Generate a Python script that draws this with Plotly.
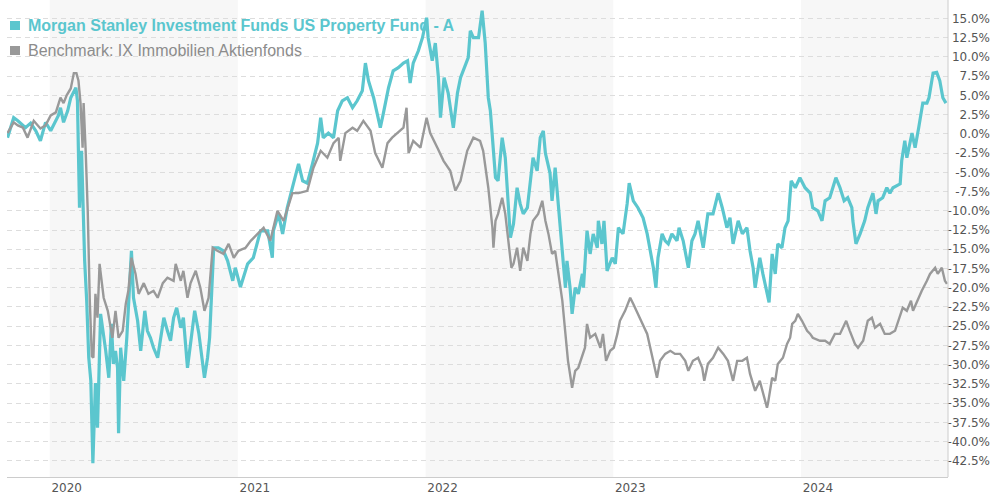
import plotly.graph_objects as go

# ---------------- data (cumulative performance in %) ----------------
fund_dates = [
    "2019-10-11", "2019-10-23", "2019-10-31", "2019-11-15", "2019-11-25", "2019-12-05", "2019-12-14", "2019-12-24",
    "2020-01-03", "2020-01-13", "2020-01-18", "2020-01-22", "2020-01-28", "2020-02-05", "2020-02-11", "2020-02-21", "2020-02-24", "2020-02-28",
    "2020-03-03", "2020-03-09", "2020-03-13", "2020-03-17", "2020-03-21", "2020-03-25", "2020-03-30",
    "2020-04-03", "2020-04-09", "2020-04-19", "2020-04-25", "2020-04-30",
    "2020-05-04", "2020-05-08", "2020-05-12", "2020-05-14", "2020-05-18", "2020-05-24", "2020-05-30",
    "2020-06-08", "2020-06-12", "2020-06-20", "2020-06-26",
    "2020-07-04", "2020-07-09", "2020-07-15", "2020-07-21", "2020-07-29",
    "2020-08-04", "2020-08-10", "2020-08-17", "2020-08-23", "2020-08-29",
    "2020-09-04", "2020-09-12", "2020-09-17", "2020-09-25",
    "2020-10-01", "2020-10-09", "2020-10-17", "2020-10-28",
    "2020-11-03", "2020-11-07", "2020-11-15", "2020-11-24",
    "2020-12-04", "2020-12-12", "2020-12-22", "2020-12-27",
    "2021-01-06", "2021-01-20", "2021-01-31", "2021-02-08", "2021-02-14", "2021-02-28",
    "2021-03-09", "2021-03-11", "2021-03-21", "2021-03-29", "2021-04-07", "2021-04-17", "2021-04-29",
    "2021-05-07", "2021-05-16", "2021-05-26", "2021-06-05", "2021-06-11", "2021-06-16", "2021-06-26",
    "2021-07-06", "2021-07-14", "2021-07-23", "2021-08-02", "2021-08-12", "2021-08-21", "2021-08-31",
    "2021-09-06", "2021-09-12", "2021-09-22", "2021-10-05", "2021-10-11", "2021-10-21", "2021-10-30",
    "2021-11-09", "2021-11-19", "2021-11-27", "2021-12-02", "2021-12-08", "2021-12-18", "2021-12-26",
    "2022-01-03", "2022-01-06", "2022-01-14", "2022-01-20", "2022-01-26", "2022-01-30",
    "2022-02-06", "2022-02-14", "2022-02-24", "2022-03-04", "2022-03-10", "2022-03-15", "2022-03-25", "2022-03-29",
    "2022-04-04", "2022-04-14", "2022-04-21", "2022-04-27", "2022-05-03", "2022-05-07", "2022-05-13", "2022-05-17",
    "2022-05-22", "2022-05-30", "2022-06-05", "2022-06-11", "2022-06-15", "2022-06-21", "2022-06-28",
    "2022-07-04", "2022-07-10", "2022-07-18", "2022-07-24", "2022-07-29", "2022-08-06", "2022-08-12",
    "2022-08-18", "2022-08-22", "2022-08-31", "2022-09-04", "2022-09-10", "2022-09-16", "2022-09-20",
    "2022-09-26", "2022-09-30", "2022-10-03", "2022-10-09", "2022-10-13", "2022-10-19", "2022-10-25",
    "2022-11-02", "2022-11-04", "2022-11-11", "2022-11-17", "2022-11-23", "2022-12-01", "2022-12-03",
    "2022-12-10", "2022-12-14", "2022-12-20", "2022-12-30",
    "2023-01-05", "2023-01-11", "2023-01-20", "2023-01-28", "2023-02-01", "2023-02-09", "2023-02-18", "2023-02-28",
    "2023-03-08", "2023-03-14", "2023-03-20", "2023-03-25", "2023-03-29", "2023-04-06", "2023-04-12", "2023-04-18",
    "2023-04-25", "2023-05-05", "2023-05-09", "2023-05-17", "2023-05-27", "2023-06-03", "2023-06-09", "2023-06-15",
    "2023-06-25", "2023-07-04", "2023-07-14", "2023-07-24", "2023-08-01", "2023-08-10", "2023-08-16", "2023-08-22",
    "2023-09-01", "2023-09-09", "2023-09-18", "2023-09-24", "2023-09-30", "2023-10-04", "2023-10-13", "2023-10-19",
    "2023-10-27", "2023-10-31", "2023-11-06", "2023-11-12", "2023-11-17", "2023-11-25", "2023-12-01", "2023-12-07",
    "2023-12-13", "2023-12-21", "2023-12-30",
    "2024-01-09", "2024-01-19", "2024-01-24", "2024-02-03", "2024-02-11", "2024-02-17", "2024-02-26", "2024-03-03",
    "2024-03-09", "2024-03-17", "2024-03-25", "2024-04-01", "2024-04-09", "2024-04-11", "2024-04-17", "2024-04-25",
    "2024-05-04", "2024-05-10", "2024-05-20", "2024-05-26", "2024-05-30", "2024-06-08", "2024-06-16", "2024-06-22",
    "2024-06-28", "2024-07-12", "2024-07-15", "2024-07-21", "2024-07-25", "2024-08-04", "2024-08-10", "2024-08-17",
    "2024-08-25", "2024-09-02", "2024-09-06", "2024-09-14", "2024-09-21", "2024-09-27", "2024-10-03", "2024-10-09",
]
fund_values = [
    -0.5, 2.1, 1.7, 0.8, 1.4, 0.4, -0.9, 1.5,
    0.4, 1.7, 2.4, 3.4, 1.5, 3.0, 4.7, 6.0, 4.3, -9.6,
    -2.2, -16.5, -21.7, -29.1, -32.1, -42.8, -32.4,
    -38.2, -23.4, -28.2, -31.7, -24.7,
    -29.9, -28.2, -30.4, -38.9, -27.8, -32.1, -26.5,
    -15.2, -21.3, -24.3, -28.2,
    -23.0, -25.6, -26.5, -27.8, -29.1,
    -26.5, -23.9, -25.6, -26.9, -23.9,
    -22.6, -25.2, -23.9, -30.4,
    -26.9, -23.0, -25.9, -31.7,
    -29.1, -26.5, -14.8, -14.8,
    -15.2, -16.5, -19.1, -17.4,
    -19.9, -16.9, -16.1, -13.9, -12.6, -12.6,
    -16.1, -12.6, -10.4, -13.0, -9.6, -7.0, -3.9,
    -6.1, -6.4, -3.9, -1.2, 2.1, -0.5, 0.1,
    -0.5, 3.0, 4.3, 4.7, 3.4, 4.3, 5.6,
    9.2, 6.9, 4.7, 0.8, 2.7, 6.0, 8.2,
    8.6, 9.2, 9.5, 6.6, 9.2, 10.8, 12.5,
    15.1, 12.5, 9.5, 11.8, 7.3, 2.1,
    7.3, 5.3, 0.8, 5.3, 7.3, 8.2, 9.9, 13.4,
    12.5, 12.5, 16.0, 11.8, 4.7, 3.0, -3.1, -5.7,
    -6.1, -0.5, -3.1, -8.7, -13.5, -11.7, -7.0,
    -9.1, -10.4, -9.6, -6.4, -3.1, -4.8, -0.5,
    0.4, -2.5, -5.1, -8.7, -4.4, -8.7, -12.2,
    -16.9, -20.0, -16.5, -20.0, -23.4, -20.0, -20.8,
    -18.2, -20.0, -12.6, -15.6, -13.0, -14.8, -11.3,
    -14.3, -11.3, -17.8, -16.1,
    -16.9, -12.2, -13.0, -9.1, -6.4, -8.7, -9.6, -10.9,
    -13.0, -15.2, -17.4, -20.0, -16.1, -13.0, -13.9, -14.3,
    -13.0, -13.9, -12.2, -13.9, -17.4, -13.9, -13.0, -11.3,
    -14.8, -10.4, -10.4, -7.7, -9.6, -12.2, -10.9, -14.3,
    -11.3, -13.0, -12.2, -15.2, -17.4, -20.0, -16.1, -18.2,
    -20.8, -21.9, -15.6, -18.2, -14.3, -14.8, -12.2, -11.3,
    -6.1, -7.0, -5.7,
    -7.0, -7.7, -9.6, -10.0, -11.3, -8.7, -8.3, -7.0,
    -5.7, -7.0, -8.7, -8.3, -9.6, -11.3, -14.3, -13.0,
    -11.3, -9.6, -7.7, -10.4, -8.7, -8.3, -7.0, -7.7,
    -7.0, -6.5, -3.5, -0.9, -3.1, 0.1, -1.8, 0.8,
    4.0, 4.0, 4.7, 7.9, 8.0, 6.9, 4.7, 4.0,
]

bench_dates = [
    "2019-10-11", "2019-10-23", "2019-10-31", "2019-11-10", "2019-11-19", "2019-12-01", "2019-12-14", "2019-12-24",
    "2020-01-03", "2020-01-13", "2020-01-22", "2020-01-28", "2020-02-03", "2020-02-11", "2020-02-17", "2020-02-22", "2020-02-26",
    "2020-03-01", "2020-03-05", "2020-03-07", "2020-03-11", "2020-03-15", "2020-03-19", "2020-03-23", "2020-03-26", "2020-03-30",
    "2020-04-03", "2020-04-07", "2020-04-15", "2020-04-23", "2020-05-02", "2020-05-08", "2020-05-14", "2020-05-22", "2020-05-28",
    "2020-06-02", "2020-06-08", "2020-06-16", "2020-06-22", "2020-07-02", "2020-07-11", "2020-07-21", "2020-07-29",
    "2020-08-08", "2020-08-17", "2020-08-29", "2020-09-02", "2020-09-12", "2020-09-17", "2020-09-25",
    "2020-10-01", "2020-10-11", "2020-10-20", "2020-10-28", "2020-11-05", "2020-11-13", "2020-11-22",
    "2020-12-04", "2020-12-14", "2020-12-24",
    "2021-01-02", "2021-01-16", "2021-01-26", "2021-02-08", "2021-02-20", "2021-03-05", "2021-03-19", "2021-03-31",
    "2021-04-17", "2021-04-29", "2021-05-16", "2021-05-28", "2021-06-11", "2021-06-24", "2021-07-06", "2021-07-16",
    "2021-07-19", "2021-07-29", "2021-08-12", "2021-08-21", "2021-09-02", "2021-09-16", "2021-09-25", "2021-10-09",
    "2021-10-19", "2021-10-28", "2021-11-07", "2021-11-19", "2021-11-25", "2021-11-29", "2021-12-08", "2021-12-22",
    "2022-01-03", "2022-01-10", "2022-01-24", "2022-02-05", "2022-02-18", "2022-02-28", "2022-03-10", "2022-03-23",
    "2022-04-04", "2022-04-17", "2022-04-23", "2022-05-03", "2022-05-11", "2022-05-13", "2022-05-17", "2022-05-22",
    "2022-05-30", "2022-06-05", "2022-06-11", "2022-06-17", "2022-06-21", "2022-06-28", "2022-07-04", "2022-07-10",
    "2022-07-18", "2022-07-24", "2022-07-29", "2022-08-08", "2022-08-16", "2022-08-22", "2022-08-28", "2022-09-04",
    "2022-09-10", "2022-09-16", "2022-09-24", "2022-09-30", "2022-10-05", "2022-10-13", "2022-10-19", "2022-10-25",
    "2022-11-02", "2022-11-07", "2022-11-11", "2022-11-17", "2022-11-27", "2022-12-07", "2022-12-12", "2022-12-18",
    "2022-12-26",
    "2023-01-02", "2023-01-09", "2023-01-14", "2023-01-24", "2023-02-03", "2023-02-09", "2023-02-18", "2023-02-28",
    "2023-03-08", "2023-03-14", "2023-03-20", "2023-03-27", "2023-04-02", "2023-04-12", "2023-04-22", "2023-05-01",
    "2023-05-11", "2023-05-21", "2023-05-27", "2023-06-05", "2023-06-15", "2023-06-23", "2023-06-27", "2023-07-04",
    "2023-07-14", "2023-07-24", "2023-08-03", "2023-08-12", "2023-08-22", "2023-08-30", "2023-09-09", "2023-09-18",
    "2023-09-24", "2023-10-04", "2023-10-13", "2023-10-19", "2023-10-27", "2023-10-29", "2023-11-06", "2023-11-12",
    "2023-11-17", "2023-11-27", "2023-12-05", "2023-12-11", "2023-12-15", "2023-12-21", "2023-12-26",
    "2024-01-03", "2024-01-13", "2024-01-19", "2024-01-24", "2024-02-07", "2024-02-17", "2024-02-26", "2024-03-07",
    "2024-03-17", "2024-03-29", "2024-04-05", "2024-04-15", "2024-04-21", "2024-05-01", "2024-05-10", "2024-05-18",
    "2024-05-24", "2024-06-03", "2024-06-12", "2024-06-22", "2024-07-02", "2024-07-12", "2024-07-17", "2024-07-25",
    "2024-08-02", "2024-08-06", "2024-08-14", "2024-08-23", "2024-09-02", "2024-09-08", "2024-09-18", "2024-09-23",
    "2024-10-01", "2024-10-07", "2024-10-11",
]
bench_values = [
    0.1, 1.5, 1.1, 0.8, -0.5, 1.7, 0.7, 1.1,
    2.4, 2.8, 4.7, 4.0, 5.0, 5.9, 7.9, 7.9, 6.9,
    4.0, -1.8, 4.0, -2.2, -10.0, -21.7, -28.9, -29.1, -20.8,
    -23.9, -16.9, -21.3, -23.0, -26.5, -23.0, -26.5, -25.6, -22.1,
    -20.4, -16.1, -18.2, -20.8, -19.4, -20.8, -20.4, -21.3,
    -19.4, -18.7, -19.1, -16.9, -19.1, -17.8, -21.3,
    -19.4, -17.8, -20.0, -23.0, -21.3, -14.8, -15.2,
    -15.6, -14.3, -16.1,
    -15.2, -14.8, -13.9, -13.0, -12.2, -13.9, -10.0, -11.3,
    -7.7, -7.7, -7.4, -4.4, -2.2, -3.1, -1.2, -0.5,
    -3.5, 0.1, 0.8, 0.4, 1.7, 0.4, -2.5, -4.4,
    -1.2, -0.5, 0.1, 0.8, 3.4, -2.5, -0.9, -1.8,
    2.1, 0.1, -1.8, -3.5, -4.8, -7.4, -6.1, -2.2,
    -0.5, -0.9, -2.2, -7.0, -12.2, -14.8, -11.3, -10.4,
    -8.3, -10.4, -13.9, -17.4, -16.9, -14.8, -17.8, -14.8,
    -16.5, -13.0, -11.3, -10.4, -8.7, -11.3, -13.0, -15.6,
    -15.2, -17.8, -21.7, -26.0, -29.5, -33.0, -30.8, -30.4,
    -28.6, -27.8, -24.7, -26.5, -26.0, -27.8, -26.0, -29.5,
    -28.2,
    -27.8, -26.0, -24.3, -23.0, -21.3, -22.1, -23.4, -24.7,
    -26.0, -27.8, -29.5, -31.7, -29.5, -28.6, -28.2, -28.6,
    -28.6, -29.5, -30.8, -29.5, -29.1, -30.4, -32.1, -29.9,
    -29.1, -27.8, -28.6, -29.5, -32.1, -29.5, -29.5, -29.1,
    -31.2, -33.4, -32.1, -33.7, -35.6, -35.0, -31.7, -32.1,
    -29.9, -29.1, -27.3, -26.5, -24.7, -24.3, -23.4,
    -24.3, -25.6, -26.0, -26.5, -26.9, -26.9, -27.3, -26.0,
    -26.0, -24.3, -25.6, -27.3, -27.8, -26.9, -24.3, -23.9,
    -25.2, -24.7, -26.0, -26.0, -25.6, -23.4, -22.6, -23.0,
    -21.7, -23.0, -21.7, -20.4, -19.1, -18.2, -17.4, -18.2,
    -17.4, -19.1, -19.5,
]

assert len(fund_dates) == len(fund_values), (len(fund_dates), len(fund_values))
assert len(bench_dates) == len(bench_values), (len(bench_dates), len(bench_values))

fund_name = "Morgan Stanley Investment Funds US Property Fund - A"
bench_name = "Benchmark: IX Immobilien Aktienfonds"

year_ticks = ["2020-01-01", "2021-01-01", "2022-01-01", "2023-01-01", "2024-01-01"]
year_labels = ["2020", "2021", "2022", "2023", "2024"]
shaded_years = [("2020-01-01", "2021-01-01"), ("2022-01-01", "2023-01-01"), ("2024-01-01", "2024-10-13")]
y_tick_vals = [15 - 2.5 * i for i in range(24)]
y_tick_text = [f"{v:.1f}%" for v in y_tick_vals]

TEAL = "#5bc6ce"
GRAY = "#999999"

# ---------------- figure ----------------
W, H = 990, 496
ML, MR, MT, MB = 0, 0, 0, 19
PLOT_L, PLOT_R = 7, 948
PH = H - MT - MB


def px_x(px):
    return px / W


def px_y(py):
    return 1 - py / PH


fig = go.Figure()
fig.add_trace(go.Scatter(x=fund_dates, y=fund_values, mode="lines", name=fund_name,
                         line=dict(color=TEAL, width=3.2), hoverinfo="skip"))
fig.add_trace(go.Scatter(x=bench_dates, y=bench_values, mode="lines", name=bench_name,
                         line=dict(color=GRAY, width=2.4), hoverinfo="skip"))

shapes = []
for a, b in shaded_years:
    shapes.append(dict(type="rect", xref="x", yref="y domain", x0=a, x1=b, y0=0, y1=1,
                       fillcolor="#f7f7f7", line=dict(width=0), layer="below"))
shapes.append(dict(type="line", xref="x domain", yref="y domain", x0=1, x1=1, y0=0, y1=1,
                   line=dict(color="#cccccc", width=1)))
# legend markers
shapes.append(dict(type="rect", xref="paper", yref="paper", x0=px_x(10), x1=px_x(20),
                   y0=px_y(30), y1=px_y(21), fillcolor=TEAL, line=dict(width=0)))
shapes.append(dict(type="rect", xref="paper", yref="paper", x0=px_x(10), x1=px_x(20),
                   y0=px_y(55), y1=px_y(46), fillcolor=GRAY, line=dict(width=0)))

annotations = [
    dict(text=f"<b>{fund_name}</b>", xref="paper", yref="paper", x=px_x(26), y=px_y(26),
         xanchor="left", yanchor="middle", showarrow=False,
         font=dict(family="Liberation Sans, Arial", size=16, color=TEAL)),
    dict(text=bench_name, xref="paper", yref="paper", x=px_x(26), y=px_y(50),
         xanchor="left", yanchor="middle", showarrow=False,
         font=dict(family="Liberation Sans, Arial", size=16, color="#8c8c8c")),
]

tick_font = dict(family="DejaVu Sans, Verdana", size=12, color="#555555")

fig.update_layout(
    width=W, height=H,
    margin=dict(l=ML, r=MR, t=MT, b=MB, pad=0),
    paper_bgcolor="white", plot_bgcolor="white",
    showlegend=False,
    shapes=shapes,
    annotations=annotations,
    xaxis=dict(
        type="date", domain=[px_x(PLOT_L), px_x(PLOT_R)],
        range=["2019-10-10", "2024-10-13"],
        tickvals=year_ticks, ticktext=year_labels, ticklabelshift=17,
        showgrid=False, zeroline=False, showline=True, linecolor="#cccccc", linewidth=1,
        ticks="", tickfont=tick_font,
    ),
    yaxis=dict(
        range=[-44.6, 17.4], side="left", anchor="free", position=1.0,
        tickvals=y_tick_vals, ticktext=y_tick_text,
        showgrid=True, gridcolor="#dddddd", gridwidth=1, griddash="5px,4px",
        zeroline=False, showline=False, ticks="", tickfont=tick_font,
    ),
)

fig.write_html("out.html")
